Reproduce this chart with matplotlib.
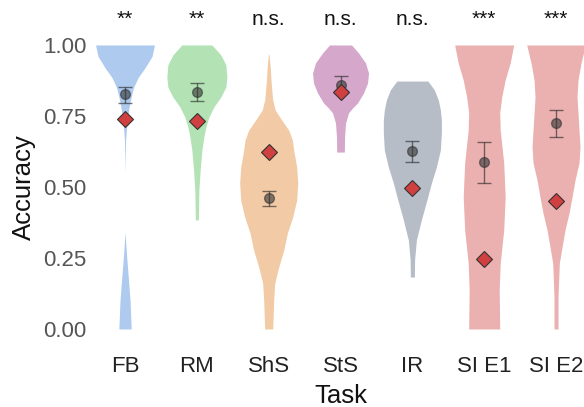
import numpy as np
import matplotlib
matplotlib.use("Agg")
import matplotlib.pyplot as plt

plt.rcParams['font.family'] = ['Liberation Sans', 'DejaVu Sans']

tasks = ["FB", "RM", "ShS", "StS", "IR", "SI E1", "SI E2"]
sig_labels = ["**", "**", "n.s.", "n.s.", "n.s.", "***", "***"]
colors = ["#aecbef", "#b3e3b5", "#f2cba6", "#d4a7cb", "#b6bdc7", "#ebb0b0", "#ebb0b0"]

# mean accuracy with error bar limits
means = [0.827, 0.836, 0.460, 0.859, 0.628, 0.587, 0.724]
err_low = [0.795, 0.803, 0.434, 0.830, 0.589, 0.513, 0.675]
err_high = [0.853, 0.865, 0.487, 0.890, 0.663, 0.660, 0.771]
# red diamonds
reference = [0.739, 0.733, 0.624, 0.833, 0.498, 0.245, 0.452]

# violin outlines: accuracy levels and half widths (x units)
fb_y = [0.0, 0.10, 0.18, 0.25, 0.34, 0.55, 0.60, 0.665, 0.71, 0.745, 0.78, 0.815, 0.85, 0.885, 0.92, 0.96, 1.0]
fb_w = [0.086, 0.07, 0.046, 0.024, 0.0, 0.0, 0.003, 0.008, 0.021, 0.035, 0.056, 0.084, 0.118, 0.181, 0.279, 0.376, 0.41]
rm_y = [0.384, 0.489, 0.56, 0.63, 0.676, 0.711, 0.746, 0.782, 0.817, 0.852, 0.887, 0.93, 0.965, 1.0]
rm_w = [0.021, 0.028, 0.046, 0.07, 0.097, 0.125, 0.167, 0.237, 0.334, 0.404, 0.418, 0.404, 0.334, 0.209]
shs_y = [0.0, 0.102, 0.162, 0.218, 0.278, 0.338, 0.394, 0.454, 0.514, 0.57, 0.63, 0.665, 0.70, 0.736, 0.771, 0.806, 0.866, 0.923, 0.968]
shs_w = [0.056, 0.07, 0.084, 0.139, 0.21, 0.26, 0.334, 0.39, 0.404, 0.39, 0.348, 0.33, 0.279, 0.181, 0.09, 0.056, 0.035, 0.021, 0.004]
sts_y = [0.623, 0.676, 0.725, 0.761, 0.778, 0.796, 0.831, 0.866, 0.901, 0.937, 0.972, 1.0]
sts_w = [0.053, 0.056, 0.07, 0.111, 0.167, 0.237, 0.32, 0.376, 0.39, 0.348, 0.25, 0.153]
ir_y = [0.183, 0.243, 0.313, 0.384, 0.454, 0.514, 0.57, 0.63, 0.69, 0.736, 0.771, 0.806, 0.842, 0.873]
ir_w = [0.028, 0.031, 0.056, 0.125, 0.202, 0.265, 0.334, 0.39, 0.404, 0.404, 0.39, 0.362, 0.306, 0.216]
si1_y = [0.0, 0.137, 0.232, 0.349, 0.465, 0.585, 0.70, 0.761, 0.817, 0.877, 0.937, 1.0]
si1_w = [0.216, 0.209, 0.223, 0.272, 0.292, 0.272, 0.223, 0.216, 0.244, 0.292, 0.362, 0.411]
si2_y = [0.0, 0.113, 0.232, 0.289, 0.349, 0.408, 0.465, 0.525, 0.585, 0.641, 0.70, 0.761, 0.817, 0.877, 0.937, 1.0]
si2_w = [0.028, 0.028, 0.046, 0.084, 0.125, 0.181, 0.223, 0.265, 0.32, 0.334, 0.32, 0.306, 0.292, 0.306, 0.348, 0.408]

violins = [(fb_y, fb_w), (rm_y, rm_w), (shs_y, shs_w), (sts_y, sts_w),
           (ir_y, ir_w), (si1_y, si1_w), (si2_y, si2_w)]

fig = plt.figure(figsize=(5.84, 4.07), dpi=100)
ax = fig.add_axes([0.1526, 0.1568, 0.861, 0.7676])

x = np.arange(len(tasks))
for i, (vy, vw) in enumerate(violins):
    vy = np.array(vy)
    vw = np.array(vw)
    ax.fill_betweenx(vy, i - vw, i + vw, color=colors[i], linewidth=0, zorder=1)

ax.errorbar(x, means, yerr=[np.array(means) - np.array(err_low), np.array(err_high) - np.array(means)],
            fmt="o", color="#333333", ecolor="#222222", elinewidth=1, capsize=5,
            capthick=1, markersize=7, alpha=0.6, zorder=3)
ax.plot(x, reference, "D", color="#d04040", markersize=8.5, markeredgecolor="#333333",
        markeredgewidth=0.8, linestyle="none", zorder=4)

for i, s in enumerate(sig_labels):
    ax.text(i, 1.07, s, ha="center", va="baseline", fontsize=15, color="#111111",
            clip_on=False)

ax.set_xlim(-0.5, 6.5)
ax.set_ylim(-0.05, 1.05)
ax.set_yticks([0.0, 0.25, 0.5, 0.75, 1.0])
ax.set_yticklabels(["0.00", "0.25", "0.50", "0.75", "1.00"])
ax.set_xticks(x)
ax.set_xticklabels(tasks)
ax.tick_params(axis="y", length=0, pad=2, labelsize=16, labelcolor="#555555")
ax.tick_params(axis="x", length=0, pad=9, labelsize=16, labelcolor="#222222")
for sp in ax.spines.values():
    sp.set_visible(False)
ax.set_xlabel("Task", fontsize=18.5, color="#111111", labelpad=5)
ax.set_ylabel("Accuracy", fontsize=18.5, color="#111111", labelpad=5)

fig.savefig("out.png", dpi=100)
